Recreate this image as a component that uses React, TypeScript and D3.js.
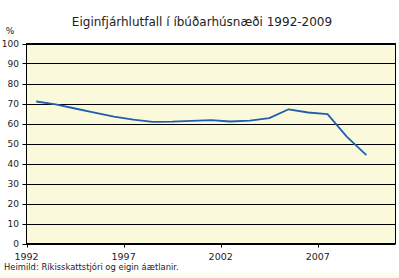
import React from "react";
import * as d3 from "d3";

const years = [1992, 1993, 1994, 1995, 1996, 1997, 1998, 1999, 2000, 2001, 2002, 2003, 2004, 2005, 2006, 2007, 2008, 2009];
const equityRatio = [71, 69.6, 67.5, 65.4, 63.4, 61.9, 60.8, 60.9, 61.3, 61.7, 61.0, 61.4, 62.7, 67.1, 65.5, 64.7, 53.3, 44.2];
const yTicks = [0, 10, 20, 30, 40, 50, 60, 70, 80, 90, 100];
const xTicks = [1992, 1997, 2002, 2007];
const title = "Eiginfjárhlutfall í íbúðarhúsnæði 1992-2009";
const unit = "%";
const source = "Heimild: Ríkisskattstjóri og eigin áætlanir.";

export default function App() {
  const W = 399, H = 278;
  const left = 26.5, right = 395.5, top = 43.5, bottom = 243.5;
  const x = d3.scaleLinear().domain([1992, 2011]).range([left, right]);
  const y = d3.scaleLinear().domain([0, 100]).range([bottom, top]);
  const line = d3.line<number>()
    .x((_, i) => x(years[i] + 0.5))
    .y((d) => y(d));
  const font = "'DejaVu Sans', Verdana, sans-serif";
  return (
    <svg width={W} height={H} style={{ position: "absolute", left: 0, top: 0, display: "block" }} fontFamily={font}>
      <rect x={0} y={0} width={W} height={H} fill="#ffffff" />
      <rect x={0} y={273} width={W} height={5} fill="#fdfdea" />
      <text x={202} y={26} textAnchor="middle" fontSize={12} fill="#222">{title}</text>
      <text x={10} y={34} textAnchor="middle" fontSize={9} fill="#222">{unit}</text>
      <rect x={left} y={top} width={right - left} height={bottom - top} fill="#fbf9dc" />
      {yTicks.map((t) => (
        <g key={t}>
          <line x1={left - 4} x2={right} y1={Math.round(y(t)) + 0.5} y2={Math.round(y(t)) + 0.5} stroke="#000" strokeWidth={1} />
          <text x={19} y={y(t)} dy="0.35em" textAnchor="end" fontSize={9} fill="#222">{t}</text>
        </g>
      ))}
      {xTicks.map((t) => (
        <g key={t}>
          <line x1={Math.round(x(t)) + 0.5} x2={Math.round(x(t)) + 0.5} y1={bottom} y2={bottom + 4} stroke="#000" />
          <text x={x(t)} y={257} dy="0.35em" textAnchor="middle" fontSize={9.5} fill="#222">{t}</text>
        </g>
      ))}
      <rect x={left} y={top} width={right - left} height={bottom - top} fill="none" stroke="#000" strokeWidth={1} />
      <path d={line(equityRatio) || ""} fill="none" stroke="#1f5fae" strokeWidth={1.8} strokeLinejoin="round" />
      <text x={4} y={267} dy="0.35em" fontSize={8.4} fill="#222">{source}</text>
    </svg>
  );
}
